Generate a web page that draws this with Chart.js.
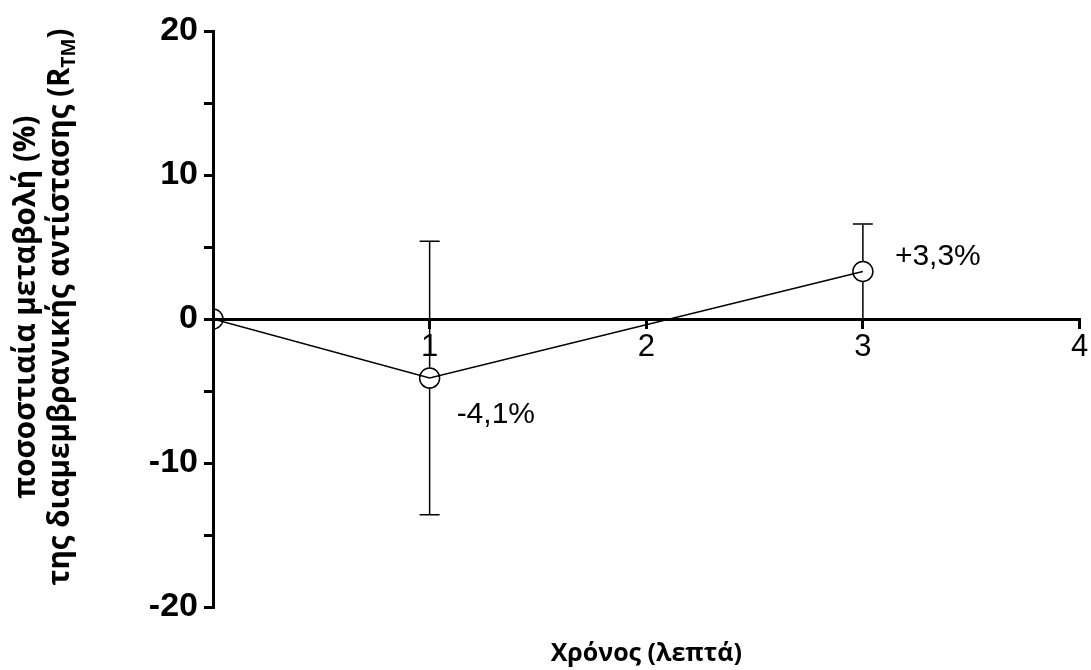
<!DOCTYPE html>
<html><head><meta charset="utf-8">
<script src="https://cdn.jsdelivr.net/npm/chart.js@4"></script>
<style>html,body{margin:0;padding:0;background:#fff}canvas{display:block}</style>
</head><body>
<canvas id="c" width="1091" height="670"></canvas>
<script>
// ---- data ----
const times = [0, 1, 3];
const meanChange = [0, -4.1, 3.3];
const sdChange = [0, 9.5, 3.3];
const pointLabels = ['', '-4,1%', '+3,3%'];
const xTickValues = [1, 2, 3, 4];
const yTickValues = [-20, -10, 0, 10, 20];
const yMinorTickValues = [-15, -5, 5, 15];
const yTitleLine1 = 'ποσοστιαία μεταβολή (%)';
const yTitleLine2 = 'της διαμεμβρανικής αντίστασης (R';
const yTitleSub = 'TM';
const yTitleEnd = ')';
const xTitle = 'Χρόνος (λεπτά)';

const points = times.map((t, i) => ({x: t, y: meanChange[i]}));

const errorBars = {
  id: 'errorBars',
  beforeDatasetsDraw(chart) {
    const {ctx} = chart; const x = chart.scales.x, y = chart.scales.y;
    ctx.save(); ctx.strokeStyle = '#000'; ctx.lineWidth = 1.5;
    times.forEach((t, i) => {
      const sd = sdChange[i]; if (!sd) return;
      const px = x.getPixelForValue(t);
      const top = y.getPixelForValue(meanChange[i] + sd);
      const bot = y.getPixelForValue(meanChange[i] - sd);
      ctx.beginPath();
      ctx.moveTo(px, top); ctx.lineTo(px, bot);
      ctx.moveTo(px - 10, top); ctx.lineTo(px + 10, top);
      ctx.moveTo(px - 10, bot); ctx.lineTo(px + 10, bot);
      ctx.stroke();
    });
    ctx.restore();
  }
};

const valueLabels = {
  id: 'valueLabels',
  afterDatasetsDraw(chart) {
    const {ctx} = chart; const x = chart.scales.x, y = chart.scales.y;
    ctx.save(); ctx.fillStyle = '#000'; ctx.font = '30px "Liberation Sans", Arial, sans-serif';
    ctx.textAlign = 'left'; ctx.textBaseline = 'middle';
    times.forEach((t, i) => {
      if (!pointLabels[i]) return;
      const px = x.getPixelForValue(t), py = y.getPixelForValue(meanChange[i]);
      if (meanChange[i] < 0) ctx.fillText(pointLabels[i], px + 27, py + 37);
      else ctx.fillText(pointLabels[i], px + 32, py - 15);
    });
    ctx.restore();
  }
};

const yTitle = {
  id: 'yTitle',
  afterDraw(chart) {
    const {ctx} = chart;
    const cy = 307;
    ctx.save(); ctx.fillStyle = '#000';
    ctx.translate(0, cy); ctx.rotate(-Math.PI / 2);
    const main = 'bold 29.5px "Open Sans", sans-serif';
    const sub = 'bold 19px "Open Sans", sans-serif';
    ctx.textBaseline = 'alphabetic'; ctx.textAlign = 'left';
    ctx.font = main;
    const w1 = ctx.measureText(yTitleLine1).width;
    ctx.fillText(yTitleLine1, -w1 / 2, 35);
    const wa = ctx.measureText(yTitleLine2).width;
    const wc = ctx.measureText(yTitleEnd).width;
    ctx.font = sub; const wb = ctx.measureText(yTitleSub).width;
    const total = wa + wb + wc; let sx = -total / 2;
    ctx.font = main; ctx.fillText(yTitleLine2, sx, 69); sx += wa;
    ctx.font = sub; ctx.fillText(yTitleSub, sx, 75); sx += wb;
    ctx.font = main; ctx.fillText(yTitleEnd, sx, 69);
    ctx.restore();
  }
};

new Chart(document.getElementById('c'), {
  data: {
    datasets: [
      { type: 'line', data: points, borderColor: '#000', borderWidth: 1.5, pointRadius: 0, fill: false, tension: 0, order: 0 },
      { type: 'scatter', data: points, borderColor: '#000', backgroundColor: '#fff', borderWidth: 1.5, pointRadius: 10, pointHoverRadius: 10, showLine: false, order: 1 }
    ]
  },
  options: {
    responsive: false, animation: false, devicePixelRatio: 1,
    layout: { padding: { left: 0, right: 6, top: 31, bottom: 0 } },
    plugins: { legend: { display: false }, tooltip: { enabled: false } },
    scales: {
      x: {
        type: 'linear', min: 0, max: 4, position: { y: 0 },
        afterFit(s) { s.paddingRight = 0; s.paddingLeft = 0; },
        afterBuildTicks(s) { s.ticks = [0].concat(xTickValues).map(v => ({value: v})); },
        grid: { drawOnChartArea: false, color: '#000', lineWidth: 3, tickLength: 8, z: 1 },
        border: { display: true, color: '#000', width: 3, z: 1 },
        ticks: { color: '#000', padding: 2, maxRotation: 0, autoSkip: false,
          font: { family: '"Liberation Sans", Arial, sans-serif', size: 31 },
          callback: v => (xTickValues.includes(v) ? String(v) : '') }
      },
      x2: {
        type: 'linear', position: 'bottom', min: 0, max: 4,
        afterFit(s) { s.height = 63; },
        grid: { display: false, drawTicks: false }, border: { display: false },
        ticks: { display: false },
        title: { display: true, text: xTitle, color: '#000', padding: { top: 0, bottom: 1 },
          font: { family: '"Open Sans", sans-serif', size: 25, weight: 'bold', lineHeight: 1.2 } }
      },
      y: {
        type: 'linear', min: -20, max: 20,
        afterFit(s) { s.width = 213; },
        afterBuildTicks(s) { s.ticks = yTickValues.concat(yMinorTickValues).sort((a, b) => a - b).map(v => ({value: v})); },
        grid: { drawOnChartArea: false, color: '#000', lineWidth: 3, tickLength: 9 },
        border: { display: true, color: '#000', width: 3, z: 1 },
        ticks: { color: '#000', padding: 6, autoSkip: false,
          font: { family: '"Liberation Sans", Arial, sans-serif', size: 34, weight: 'bold' },
          callback: v => (yTickValues.includes(v) ? String(v) : '') }
      }
    }
  },
  plugins: [errorBars, valueLabels, yTitle]
});
</script>
</body></html>
